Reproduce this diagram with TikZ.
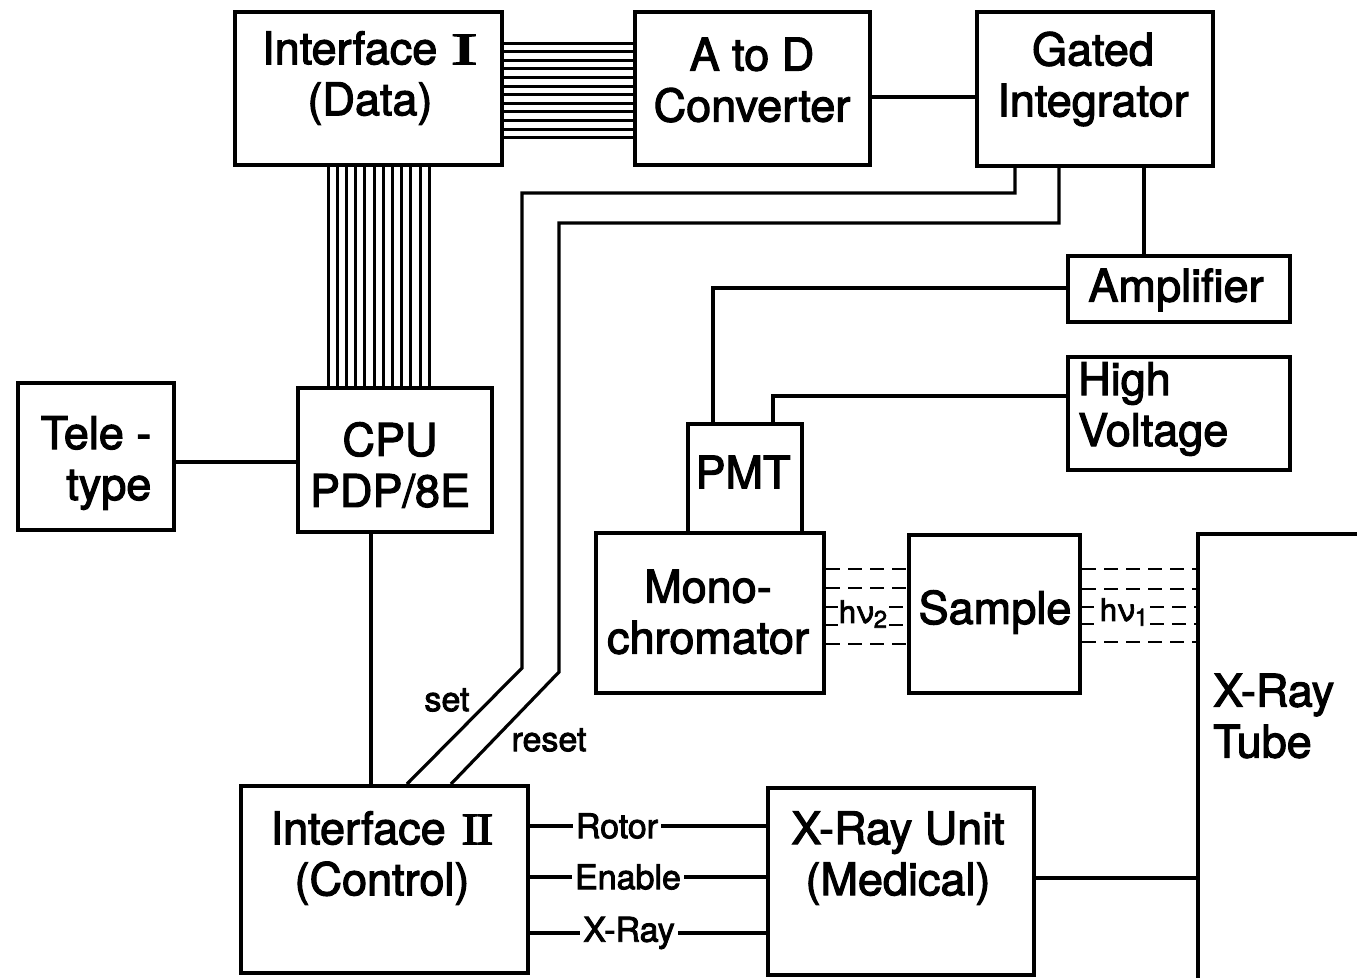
\documentclass[tikz,border=0pt]{standalone}
\usepackage{fontspec}
\usepackage{graphicx}
\setmainfont{TeX Gyre Heros}[FakeBold=2.5]
\newfontfamily\romfont{Liberation Serif}[FakeBold=2.5]
\newcommand{\romI}{{\romfont\scalebox{1.8}[1]{I}}}
\newcommand{\romII}{{\romfont\scalebox{1.15}[1]{I\kern-0.05em I}}}
\begin{document}
\begin{tikzpicture}[x=1pt,y=-1pt,
  box/.style={draw, line width=4pt, inner sep=0pt},
  wire/.style={line width=3.2pt},
  bus/.style={line width=3pt},
  ray/.style={line width=2.8pt, dash pattern=on 14pt off 8pt},
  txt/.style={font=\fontsize{45}{51}\selectfont, align=center, inner sep=0pt},
  lbl/.style={font=\fontsize{34}{40}\selectfont, inner sep=3pt, fill=white},
  hnu/.style={font=\fontsize{31}{34}\selectfont, inner sep=2pt}]
\useasboundingbox (0,0) rectangle (1357,977);
\clip (0,0) rectangle (1357,977);
% boxes
\node[box, minimum width=267pt, minimum height=153pt] (ifI) at (368.5,88.5) {};
\node[box, minimum width=235pt, minimum height=153pt] (adc) at (752.5,88.5) {};
\node[box, minimum width=236pt, minimum height=154pt] (gint) at (1095,89) {};
\node[box, minimum width=222pt, minimum height=66pt] (amp) at (1179,289) {};
\node[box, minimum width=222pt, minimum height=113pt] (hv) at (1179,413.5) {};
\node[box, minimum width=156pt, minimum height=147pt] (tty) at (96,456.5) {};
\node[box, minimum width=194pt, minimum height=144pt] (cpu) at (395,460) {};
\node[box, minimum width=114pt, minimum height=109pt] (pmt) at (745,478.5) {};
\node[box, minimum width=228pt, minimum height=160pt] (mono) at (710,613) {};
\node[box, minimum width=171pt, minimum height=158pt] (sample) at (994.5,614) {};
\node[box, minimum width=182pt, minimum height=466pt] (tube) at (1289,767) {};
\node[box, minimum width=287pt, minimum height=187pt] (ifII) at (384.5,879.5) {};
\node[box, minimum width=266pt, minimum height=187pt] (xru) at (901,881.5) {};
% texts
\node[txt] (tifI) at (370,78) {Interface\hspace{0.3em}\romI\\(Data)};
\node[txt] (tadc) at (752,80) {A to D\\Converter};
\node[txt] (tgint) at (1093,79) {Gated\\Integrator};
\node[txt] (tamp) at (1176,290) {Amplifier};
\node[txt, align=left, anchor=west] (thv) at (1078,409) {High\\Voltage};
\node[txt, align=right] (ttty) at (96,463) {Tele -\\type};
\node[txt] (tcpu) at (390,465) {CPU\\PDP/8E};
\node[txt] (tpmt) at (743,472) {PMT};
\node[txt] (tmono) at (708,612) {Mono-\\chromator};
\node[txt] (tsample) at (995,612) {Sample};
\node[txt, align=left, anchor=west] (ttube) at (1213,716) {X-Ray\\Tube};
\node[txt] (tifII) at (382,858) {Interface\hspace{0.35em}\romII\\(Control)};
\node[txt] (txru) at (898,858) {X-Ray Unit\\(Medical)};
% connector labels
\node[lbl] (lrot) at (617,826) {Rotor};
\node[lbl] (lena) at (628,877) {Enable};
\node[lbl] (lxr) at (629,933) {X-Ray};
\node[lbl, fill=none] (lset) at (447,700) {set};
\node[lbl, fill=none] (lreset) at (549,740) {reset};
\node[hnu] (h2) at (863,614) {hν\raisebox{-0.3ex}{\fontsize{24}{24}\selectfont 2}};
\node[hnu] (h1) at (1124,612) {hν\raisebox{-0.3ex}{\fontsize{24}{24}\selectfont 1}};
% data buses
\foreach \i in {0,...,11}{
  \coordinate (bh\i) at (0,{43+\i*8.6});
  \draw[bus] (bh\i -| ifI.east) -- (bh\i -| adc.west);
  \coordinate (bv\i) at ({328+\i*9.2},0);
  \draw[bus] (ifI.south -| bv\i) -- (cpu.north -| bv\i);
}
% simple wires
\coordinate (c1) at (0,97);
\draw[wire] (c1 -| adc.east) -- (c1 -| gint.west);
\coordinate (c2) at (0,462);
\draw[wire] (c2 -| tty.east) -- (c2 -| cpu.west);
\coordinate (c3) at (371,0);
\draw[wire] (cpu.south -| c3) -- (ifII.north -| c3);
\coordinate (g1) at (1144,0);
\draw[wire] (gint.south -| g1) -- (amp.north -| g1);
\coordinate (a1) at (713,288);
\draw[wire] (amp.west |- a1) -- (a1) -- (a1 |- pmt.north);
\coordinate (v1) at (773,396);
\draw[wire] (hv.west |- v1) -- (v1) -- (v1 |- pmt.north);
\coordinate (x1) at (0,878);
\draw[wire] (x1 -| xru.east) -- (x1 -| tube.west);
% set / reset
\coordinate (s1) at (1015,193);
\coordinate (s2) at (522,193);
\coordinate (s3) at (522,668);
\coordinate (s4) at (407,0);
\draw[wire, line join=miter] (gint.south -| s1) -- (s1) -- (s2) -- (s3) -- (ifII.north -| s4);
\coordinate (r1) at (1059,223);
\coordinate (r2) at (559,223);
\coordinate (r3) at (559,672);
\coordinate (r4) at (451,0);
\draw[wire, line join=miter] (gint.south -| r1) -- (r1) -- (r2) -- (r3) -- (ifII.north -| r4);
% control lines
\draw[wire] (lrot -| ifII.east) -- (lrot) -- (lrot -| xru.west);
\draw[wire] (lena -| ifII.east) -- (lena) -- (lena -| xru.west);
\draw[wire] (lxr -| ifII.east) -- (lxr) -- (lxr -| xru.west);
% photon rays
\foreach \y in {569,588,644}{
  \coordinate (ra\y) at (0,\y);
  \draw[ray] (ra\y -| mono.east) -- (ra\y -| sample.west);
}
\foreach \y in {607,625}{
  \coordinate (rb\y) at (0,\y);
  \draw[ray] (rb\y -| mono.east) -- ++(12,0);
  \draw[ray] (rb\y -| h2.east) -- (rb\y -| sample.west);
}
\foreach \y in {569,589,642}{
  \coordinate (rc\y) at (0,\y);
  \draw[ray] (rc\y -| sample.east) -- (rc\y -| tube.west);
}
\foreach \y in {607,624}{
  \coordinate (rd\y) at (0,\y);
  \draw[ray] (rd\y -| sample.east) -- ++(12,0);
  \draw[ray] (rd\y -| h1.east) -- (rd\y -| tube.west);
}
\end{tikzpicture}
\end{document}
